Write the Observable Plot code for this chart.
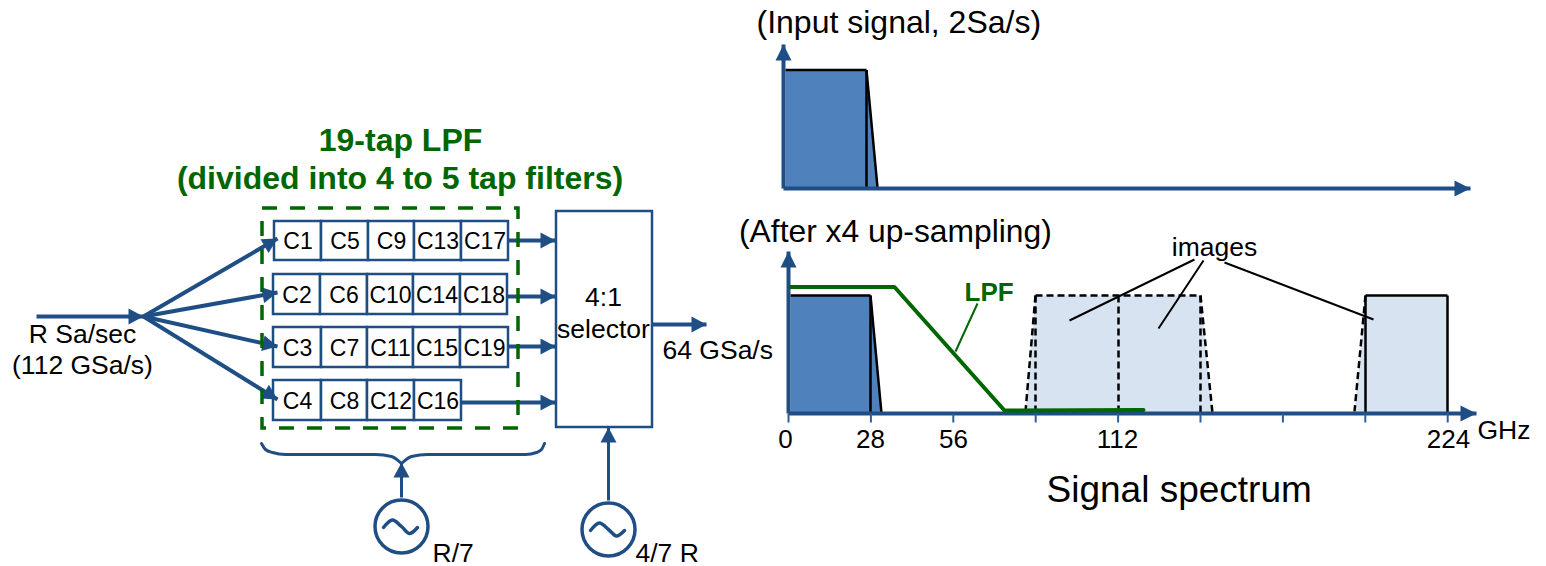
<!DOCTYPE html>
<html>
<head>
<meta charset="utf-8">
<style>
html,body{margin:0;padding:0;background:#fff}
svg{display:block}
</style>
<script src="https://cdn.jsdelivr.net/npm/d3@7"></script>
<script src="https://cdn.jsdelivr.net/npm/@observablehq/plot@0.6"></script>
</head>
<body>
<div id="chart"></div>
<script>
const NAVY = "#1f4e85", BLUE = "#4f81bd", PALE = "#d7e3f0", GREEN = "#006600", INK = "#000";
const FONT = "Liberation Sans, Arial, sans-serif";

// Filter bank: rows of tap cells
const tapRows = [
  {top:221, bottom:260, edges:[274,321,368,414,461,508], labels:["C1","C5","C9","C13","C17"]},
  {top:274, bottom:314, edges:[273,320,367,413,460,507], labels:["C2","C6","C10","C14","C18"]},
  {top:327, bottom:367, edges:[273,321,367,413,460,508], labels:["C3","C7","C11","C15","C19"]},
  {top:380, bottom:420, edges:[273,321,367,414,461],     labels:["C4","C8","C12","C16"]}
];
const selectorBox = [{x1:556, x2:652, y1:211, y2:427}];
const lpfFrame = [{x1:262, x2:518, y1:208, y2:428}];

// Arrows [x1,y1,x2,y2] tip at (x2,y2)
const flowArrows = [
  [36,316,143,316],
  [143,316,277,238],[143,316,277,292],[143,316,277,346],[143,316,277,399],
  [508,240,555,240],[507,296,555,296],[508,346,555,346],[461,402,555,402],
  [652,324,706,324]
];
const clockArrows = [[401,497,401,462],[608,500,608,427]];
const axisArrows = [
  [783,188,783,44],[783,188,1470,188],
  [788,413,788,251],[788,413,1476,413]
];

// Brace below the filter bank
const braceLeft = [[261,443],[265,449],[272,452],[285,454],[375,454],[391,456],[401,463]];
const braceRight = [[401,463],[411,456],[427,454],[525,454],[536,452],[541,449],[544,443]];

// Oscillators
const oscillators = [[401,526],[608,529]];
const waveA = [[383,527],[392,519.5],[401,526],[409,533],[417,527]];
const waveB = [[590,530],[599,522.5],[608,529],[616,535.5],[624,530]];

// Spectrum shapes
const inputBand = [[785,69.5],[866,69.5],[877,188],[785,188]];
const baseBand = [[790,295],[870,295],[881,413],[790,413]];
const imageBandA = [[1035,295],[1200,295],[1212,413],[1025,413]];
const imageBandB = [[1365,295],[1447,295],[1447,413],[1354,413]];
const lpfCurve = [[790,286.5],[894,286.5],[1004,410],[1143,409.5]];

const solidEdges = [
  [785,69.5,866,69.5],[866,69.5,866,188],[866,69.5,877,187],
  [790,295,870,295],[870,295,870,413],[870,295,881,413],
  [1365,295,1447,295],[1365,295,1365,413],[1447,295,1447,413]
];
const dashedEdges = [
  [1035,295,1200,295],[1035,295,1035,413],[1118,295,1118,413],[1200,295,1200,413],
  [1035,295,1025,411],[1200,295,1212,413],[1365,295,1354,411]
];
const imageLeaders = [[1194,259,1069,320],[1203,260,1158,328],[1224,262,1373,319]];
const lpfLeader = [[977,303,955,351]];

// Frequency axis
const tickGHz = [0,28,56,84,112,140,168,196,224];
const labelGHz = [
  {text:"0", x:785},{text:"28", x:870},{text:"56", x:953},{text:"112", x:1117},{text:"224", x:1448}
];
const tickPx = tickGHz.map(v => 788 + v * 82.4 / 28);

// Texts
const centeredText = [
  {text:"R Sa/sec", x:82, y:342},
  {text:"(112 GSa/s)", x:82, y:373},
  {text:"4:1", x:603, y:305},
  {text:"selector", x:603, y:337},
  {text:"images", x:1214, y:255}
];
const startText = [
  {text:"64 GSa/s", x:662, y:358},
  {text:"R/7", x:432, y:561},
  {text:"4/7 R", x:635, y:561},
  {text:"GHz", x:1477, y:438}
];
const headings = [
  {text:"(Input signal, 2Sa/s)", x:756, y:32, size:32},
  {text:"(After x4 up-sampling)", x:738.5, y:241, size:31.8},
  {text:"Signal spectrum", x:1046, y:501, size:37}
];
const greenTitle = [
  {text:"19-tap LPF", x:400, y:150},
  {text:"(divided into 4 to 5 tap filters)", x:399.5, y:188}
];
const lpfLabel = [{text:"LPF", x:964, y:300}];

// Builders for the library's marks
const seg = a => a.map(([x1,y1,x2,y2]) => ({x1,y1,x2,y2}));
const pts = a => a.map(([x,y]) => ({x,y}));
const poly = (a, fill) => Plot.line([...pts(a), pts(a)[0]], {x:"x", y:"y", fill, stroke:"none"});
const stroked = (a, stroke, strokeWidth, opts={}) =>
  Plot.link(seg(a), {x1:"x1", y1:"y1", x2:"x2", y2:"y2", stroke, strokeWidth, ...opts});
const heads = (a, len, wid) => a.flatMap(([x1,y1,x2,y2], id) => {
  const d = Math.hypot(x2-x1, y2-y1), ux = (x2-x1)/d, uy = (y2-y1)/d;
  const bx = x2-ux*len, by = y2-uy*len, w = wid/2;
  return [{id,x:x2,y:y2},{id,x:bx-uy*w,y:by+ux*w},{id,x:bx+uy*w,y:by-ux*w},{id,x:x2,y:y2}];
});
const headMark = (a, len, wid) => Plot.line(heads(a,len,wid), {x:"x", y:"y", z:"id", fill:NAVY, stroke:"none"});

const cells = tapRows.flatMap(r => r.labels.map((t,i) => ({
  x1:r.edges[i], x2:r.edges[i+1], y1:r.top, y2:r.bottom, text:t,
  cx:(r.edges[i]+r.edges[i+1])/2, cy:(r.top+r.bottom)/2 + 8
})));

const txt = (data, textAnchor, fontSize, fill=INK, fontWeight="normal") =>
  Plot.text(data, {x:"x", y:"y", text:"text", textAnchor, lineAnchor:"bottom", fontSize, fill, fontWeight, fontFamily:FONT});

const chart = Plot.plot({
  width:1546, height:566, margin:0,
  x:{domain:[0,1546], range:[0,1546], axis:null},
  y:{domain:[0,566], range:[0,566], axis:null},
  style:{background:"#fff", overflow:"visible"},
  marks:[
    // spectrum fills
    poly(inputBand, BLUE),
    poly(baseBand, BLUE),
    poly(imageBandA, PALE),
    poly(imageBandB, PALE),

    // spectrum outlines
    stroked(solidEdges, INK, 2.5),
    stroked(dashedEdges, INK, 2.5, {strokeDasharray:"7,4"}),

    // axes
    stroked(axisArrows, NAVY, 4),
    headMark(axisArrows, 16, 16),
    Plot.link(tickPx, {x1:d=>d, x2:d=>d, y1:()=>413, y2:()=>422, stroke:"#2f5f9a", strokeWidth:2}),

    // LPF response
    Plot.line(pts(lpfCurve), {x:"x", y:"y", stroke:GREEN, strokeWidth:4, strokeLinejoin:"miter"}),
    stroked(lpfLeader, GREEN, 2),
    stroked(imageLeaders, INK, 2),

    // filter bank flow
    Plot.rect(cells, {x1:"x1", x2:"x2", y1:"y1", y2:"y2", fill:"#fff", stroke:NAVY, strokeWidth:2.5}),
    Plot.rect(selectorBox, {x1:"x1", x2:"x2", y1:"y1", y2:"y2", fill:"#fff", stroke:NAVY, strokeWidth:2.5}),
    stroked(flowArrows, NAVY, 4),
    headMark(flowArrows, 15, 16),
    Plot.rect(lpfFrame, {x1:"x1", x2:"x2", y1:"y1", y2:"y2", fill:"none", stroke:GREEN, strokeWidth:3.5, strokeDasharray:"15,13"}),

    // clock inputs
    stroked(clockArrows, NAVY, 3),
    headMark(clockArrows, 15, 16),
    Plot.line(pts(braceLeft), {x:"x", y:"y", stroke:NAVY, strokeWidth:3, curve:"monotone-x"}),
    Plot.line(pts(braceRight), {x:"x", y:"y", stroke:NAVY, strokeWidth:3, curve:"monotone-x"}),
    Plot.dot(pts(oscillators), {x:"x", y:"y", r:26.5, stroke:NAVY, strokeWidth:3.5, fill:"#fff"}),
    Plot.line(pts(waveA), {x:"x", y:"y", stroke:NAVY, strokeWidth:3.5, curve:"catmull-rom"}),
    Plot.line(pts(waveB), {x:"x", y:"y", stroke:NAVY, strokeWidth:3.5, curve:"catmull-rom"}),

    // text
    Plot.text(cells, {x:"cx", y:"cy", text:"text", textAnchor:"middle", lineAnchor:"bottom", fontSize:23, fill:INK, fontFamily:FONT}),
    txt(centeredText, "middle", 26.5),
    txt(startText, "start", 26.5),
    txt(labelGHz.map(d => ({...d, y:447})), "middle", 26),
    ...headings.map(h => txt([h], "start", h.size)),
    txt(greenTitle, "middle", 32, GREEN, "bold"),
    txt(lpfLabel, "start", 26, GREEN, "bold")
  ]
});
document.getElementById("chart").append(chart);
</script>
</body>
</html>
